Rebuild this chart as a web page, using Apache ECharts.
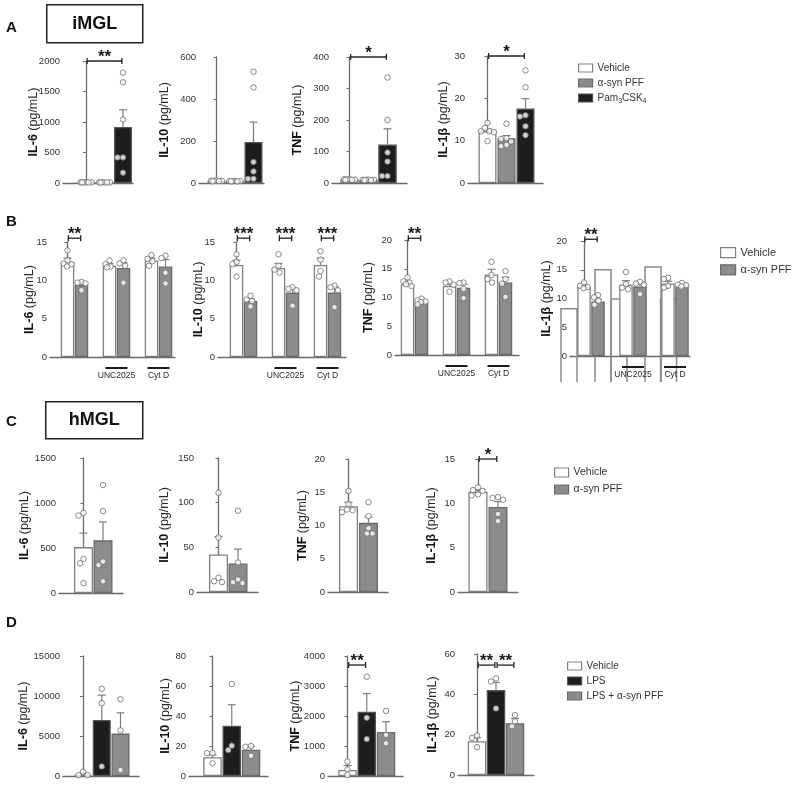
<!DOCTYPE html>
<html>
<head>
<meta charset="utf-8">
<script src="https://cdn.jsdelivr.net/npm/echarts@6/dist/echarts.min.js"></script>
<style>
  html, body { margin: 0; padding: 0; background: #fff; }
  #main { width: 793px; height: 793px; }
</style>
</head>
<body>
<div id="main"></div>
<script>
// ---- data ----
// Row A: iMGL, Vehicle / α-syn PFF / Pam3CSK4
const aConds = ['Vehicle', 'α-syn PFF', 'Pam3CSK4'];
const aIL6Mean = [10, 10, 920];
const aIL6Sem = [4, 4, 280];
const aIL6Pts = [[10, 10, 10, 10, 10, 10], [10, 10, 10, 10, 10, 10], [1810, 1650, 1040, 420, 420, 170]];
const aIL10Mean = [10, 9, 195];
const aIL10Sem = [1, 1, 95];
const aIL10Pts = [[12, 11, 10, 10, 9, 8], [10, 9, 9, 8, 8, 8], [530, 455, 100, 55, 20, 20]];
const aTNFMean = [11, 10, 122];
const aTNFSem = [1, 1, 50];
const aTNFPts = [[12, 12, 11, 11, 10, 10], [11, 10, 10, 10, 9, 9], [335, 200, 97, 68, 22, 22]];
const aIL1bMean = [12.2, 10.6, 17.6];
const aIL1bSem = [0.6, 0.6, 2.3];
const aIL1bPts = [[14.2, 13.0, 12.2, 12.2, 12.0, 9.9], [14.0, 10.6, 10.4, 9.8, 9.0, 8.7], [26.6, 22.6, 16.0, 15.7, 13.4, 11.3]];

// Row B: iMGL, Vehicle / α-syn PFF, untreated / UNC2025 / Cyt D
const bConds = ['Vehicle', 'α-syn PFF', 'Vehicle', 'α-syn PFF', 'Vehicle', 'α-syn PFF'];
const bPos = [0, 1, 3, 4, 6, 7];
const bGroups = ['UNC2025', 'Cyt D'];
const bGroupPos = [3.5, 6.5];
const bIL6Mean = [12.4, 9.4, 11.9, 11.6, 12.6, 11.8];
const bIL6Sem = [0.5, 0.3, 0.3, 0.7, 0.3, 0.9];
const bIL6Pts = [[13.9, 12.6, 12.2, 12.1, 11.8], [9.8, 9.7, 9.6, 8.7], [12.6, 12.1, 11.8, 11.7], [12.6, 12.2, 11.9, 9.7], [13.3, 12.8, 12.5, 11.9], [13.2, 12.9, 11.0, 9.6]];
const bIL10Mean = [12.0, 7.3, 11.6, 8.4, 12.0, 8.4];
const bIL10Sem = [0.6, 0.3, 0.6, 0.6, 0.9, 0.8];
const bIL10Pts = [[13.4, 12.4, 12.1, 10.5], [8.0, 7.5, 7.3, 6.6], [13.4, 11.9, 11.4, 11.0], [9.1, 8.9, 8.7, 6.7], [13.8, 12.7, 11.2, 10.5], [9.3, 9.1, 8.7, 6.5]];
const bTNFMean = [12.3, 9.1, 12.0, 11.7, 14.0, 12.6];
const bTNFSem = [0.4, 0.2, 0.3, 0.6, 0.9, 0.9];
const bTNFPts = [[13.5, 12.8, 12.6, 12.3, 12.0], [9.8, 9.5, 9.3, 9.2, 8.8], [12.8, 12.6, 12.2, 11.0], [12.6, 12.5, 11.5, 9.9], [16.2, 13.9, 13.2, 12.6], [14.6, 13.2, 12.4, 10.1]];
const bIL1bMean = [12.0, 9.5, 12.4, 12.1, 12.6, 12.1];
const bIL1bSem = [0.3, 0.4, 0.7, 0.5, 0.4, 0.2];
const bIL1bPts = [[12.8, 12.2, 12.0, 11.8], [10.6, 10.2, 9.6, 8.9], [14.6, 12.5, 11.9, 11.6], [12.9, 12.6, 12.4, 10.8], [13.6, 13.4, 12.2, 11.9], [12.7, 12.4, 12.3, 12.1]];
// stray outlined bars that overlap the IL-1β panel in the original figure
const bIL1bGhostPos = [-1.07, 1.36, 2.5, 4.93, 6.04];
const bIL1bGhostTop = [8.2, 15.0, 9.9, 15.5, 9.9];

// Row C: hMGL, Vehicle / α-syn PFF
const cConds = ['Vehicle', 'α-syn PFF'];
const cIL6Mean = [510, 585];
const cIL6Sem = [155, 205];
const cIL6Pts = [[890, 860, 380, 330, 110], [1200, 910, 350, 310, 130]];
const cIL10Mean = [42, 32];
const cIL10Sem = [20, 16];
const cIL10Pts = [[111, 61, 16, 12, 11], [91, 33, 14, 11, 10]];
const cTNFMean = [12.9, 10.4];
const cTNFSem = [0.6, 0.9];
const cTNFPts = [[15.2, 13.2, 12.4, 12.3, 12.0], [13.5, 11.4, 9.6, 8.8, 8.8]];
const cIL1bMean = [11.3, 9.6];
const cIL1bSem = [0.2, 0.6];
const cIL1bPts = [[11.8, 11.5, 11.4, 11.0, 10.9], [10.7, 10.6, 10.4, 8.8, 8.0]];

// Row D: hMGL, Vehicle / LPS / LPS + α-syn PFF
const dConds = ['Vehicle', 'LPS', 'LPS + α-syn PFF'];
const dIL6Mean = [150, 7000, 5300];
const dIL6Sem = [130, 3100, 2600];
const dIL6Pts = [[540, 100, 100], [10900, 9100, 1200], [9600, 5700, 750]];
const dIL10Mean = [12.5, 33.5, 17.5];
const dIL10Sem = [1.5, 14, 2.2];
const dIL10Pts = [[15.3, 15.2, 8.5], [61.3, 20.2, 17.3], [20.0, 19.5, 13.5]];
const dTNFMean = [200, 2140, 1470];
const dTNFSem = [150, 610, 340];
const dTNFPts = [[480, 220, 30], [3310, 1940, 1230], [2170, 1370, 1090]];
const dIL1bMean = [16.7, 42.1, 25.7];
const dIL1bSem = [1.8, 3.8, 2.3];
const dIL1bPts = [[19.6, 18.4, 13.8], [47.9, 46.4, 33.0], [29.7, 26.6, 24.2]];

// ---- styling ----
const FONT = 'Arial, "Liberation Sans", sans-serif';
const AX = '#6a6a6a';
const ERR = '#7e7e7e';
const condStyle = {
  'Vehicle': { color: '#ffffff', borderColor: '#808080' },
  'α-syn PFF': { color: '#8c8c8c', borderColor: '#6a6a6a' },
  'Pam3CSK4': { color: '#1d1d1d', borderColor: '#555555' },
  'LPS': { color: '#1d1d1d', borderColor: '#555555' },
  'LPS + α-syn PFF': { color: '#8c8c8c', borderColor: '#6a6a6a' }
};

// box: [axis x, x-axis end, top tick y, zero y, first bar centre, px per slot, bar width]
const panels = [
  { label: 'IL-6', max: 2000, step: 500, mean: aIL6Mean, sem: aIL6Sem, pts: aIL6Pts, pos: [0, 1, 2], conds: aConds, sig: [[0, 2, '**']], sigY: 2000, box: [63, 133, 61, 183, 86, 18.5, 18], nameDist: 30 },
  { label: 'IL-10', max: 600, step: 200, mean: aIL10Mean, sem: aIL10Sem, pts: aIL10Pts, pos: [0, 1, 2], conds: aConds, sig: [], box: [199, 264, 57, 183, 216.5, 18.5, 18], nameDist: 35 },
  { label: 'TNF', max: 400, step: 100, mean: aTNFMean, sem: aTNFSem, pts: aTNFPts, pos: [0, 1, 2], conds: aConds, sig: [[0, 2, '*']], sigY: 400, box: [332, 407, 57, 183, 349.5, 19, 18.5], nameDist: 35 },
  { label: 'IL-1β', max: 30, step: 10, mean: aIL1bMean, sem: aIL1bSem, pts: aIL1bPts, pos: [0, 1, 2], conds: aConds, sig: [[0, 2, '*']], sigY: 30, box: [468, 543, 56, 183, 487.5, 19, 18], nameDist: 25 },

  { label: 'IL-6', max: 15, step: 5, mean: bIL6Mean, sem: bIL6Sem, pts: bIL6Pts, pos: bPos, conds: bConds, sig: [[0, 1, '**']], sigY: 15.5, groups: true, box: [50, 175, 242, 357, 67.5, 14, 13.5], nameDist: 21 },
  { label: 'IL-10', max: 15, step: 5, mean: bIL10Mean, sem: bIL10Sem, pts: bIL10Pts, pos: bPos, conds: bConds, sig: [[0, 1, '***'], [2, 3, '***'], [4, 5, '***']], sigY: 15.5, groups: true, box: [218, 346, 242, 357, 236.5, 14, 13.5], nameDist: 20 },
  { label: 'TNF', max: 20, step: 5, mean: bTNFMean, sem: bTNFSem, pts: bTNFPts, pos: bPos, conds: bConds, sig: [[0, 1, '**']], sigY: 20.3, groups: true, box: [395, 519, 240, 355, 407.5, 14, 13.5], nameDist: 27 },
  { label: 'IL-1β', max: 20, step: 5, mean: bIL1bMean, sem: bIL1bSem, pts: bIL1bPts, pos: bPos, conds: bConds, sig: [[0, 1, '**']], sigY: 20.3, groups: true, ghost: true, box: [570, 690, 241, 356, 584, 14, 13.5], nameDist: 24 },

  { label: 'IL-6', max: 1500, step: 500, mean: cIL6Mean, sem: cIL6Sem, pts: cIL6Pts, pos: [0, 1], conds: cConds, sig: [], box: [59, 123, 458, 593, 83.5, 19.5, 19], nameDist: 35 },
  { label: 'IL-10', max: 150, step: 50, mean: cIL10Mean, sem: cIL10Sem, pts: cIL10Pts, pos: [0, 1], conds: cConds, sig: [], box: [197, 258, 458, 592, 218.5, 19.5, 19], nameDist: 33 },
  { label: 'TNF', max: 20, step: 5, mean: cTNFMean, sem: cTNFSem, pts: cTNFPts, pos: [0, 1], conds: cConds, sig: [], box: [328, 388, 459, 592, 348.5, 20, 19], nameDist: 26 },
  { label: 'IL-1β', max: 15, step: 5, mean: cIL1bMean, sem: cIL1bSem, pts: cIL1bPts, pos: [0, 1], conds: cConds, sig: [[0, 1, '*']], sigY: 15, box: [458, 518, 459, 592, 478, 20, 19], nameDist: 27 },

  { label: 'IL-6', max: 15000, step: 5000, mean: dIL6Mean, sem: dIL6Sem, pts: dIL6Pts, pos: [0, 1, 2], conds: dConds, sig: [], box: [63, 139, 656, 776, 83, 18.75, 18], nameDist: 40 },
  { label: 'IL-10', max: 80, step: 20, mean: dIL10Mean, sem: dIL10Sem, pts: dIL10Pts, pos: [0, 1, 2], conds: dConds, sig: [], box: [189, 268, 656, 776, 212.5, 19.25, 18.5], nameDist: 24 },
  { label: 'TNF', max: 4000, step: 1000, mean: dTNFMean, sem: dTNFSem, pts: dTNFPts, pos: [0, 1, 2], conds: dConds, sig: [[0, 1, '**']], sigY: 3700, box: [328, 403, 656, 776, 347.5, 19.25, 18.5], nameDist: 33 },
  { label: 'IL-1β', max: 60, step: 20, mean: dIL1bMean, sem: dIL1bSem, pts: dIL1bPts, pos: [0, 1, 2], conds: dConds, sig: [[0, 1, '**'], [1, 2, '**']], sigY: 54.5, box: [458, 534, 654, 775, 477, 19, 18.5], nameDist: 26 }
];

// simple beeswarm: horizontal offsets (px) so the dots do not sit on top of each other
function swarm(vals, pxPerVal, halfW, d) {
  const placed = [];
  return vals.map(v => {
    const y = v * pxPerVal;
    let best = 0, bestScore = -1;
    outer:
    for (let s = 0; s <= halfW; s += 0.5) {
      const cands = s === 0 ? [0] : [-s, s];
      for (const o of cands) {
        let md = Infinity;
        placed.forEach(q => { md = Math.min(md, Math.hypot(q[0] - o, q[1] - y)); });
        if (md >= d) { best = o; break outer; }
        if (md > bestScore) { bestScore = md; best = o; }
      }
    }
    placed.push([best, y]);
    return best;
  });
}

const grids = [], xAxes = [], yAxes = [], series = [];

panels.forEach((p, k) => {
  const [ax, xEnd, top, zero, c0, unit, bw] = p.box;
  grids.push({ left: ax, top: top, width: xEnd - ax, height: zero - top });
  xAxes.push({
    gridIndex: k, type: 'value', min: (ax - c0) / unit, max: (xEnd - c0) / unit,
    axisLine: { show: true, onZero: true, lineStyle: { color: AX, width: 1.3 } },
    axisTick: { show: false }, axisLabel: { show: false }, splitLine: { show: false }
  });
  yAxes.push({
    gridIndex: k, type: 'value', min: 0, max: p.max, interval: p.step,
    axisLine: { show: true, lineStyle: { color: AX, width: 1.3 } },
    axisTick: { show: true, length: 3, lineStyle: { color: AX, width: 1 } },
    axisLabel: { fontSize: 9.5, color: '#333', margin: 3, fontFamily: FONT, formatter: v => String(v) },
    splitLine: { show: false },
    name: '{b|' + p.label + '} (pg/mL)',
    nameLocation: 'middle', nameGap: p.nameDist - 7, nameMoveOverlap: false,
    nameTextStyle: {
      fontSize: 12.5, color: '#2a2a2a', fontFamily: FONT,
      rich: { b: { fontSize: 12.5, fontWeight: 'bold', color: '#111', fontFamily: FONT } }
    }
  });

  // bars, one series per condition
  [...new Set(p.conds)].forEach(cn => {
    series.push({
      type: 'bar', name: cn, xAxisIndex: k, yAxisIndex: k,
      barWidth: bw, barGap: '-100%', z: 2, silent: true,
      itemStyle: Object.assign({ borderWidth: 1.3 }, condStyle[cn]),
      data: p.pos.map((x, i) => p.conds[i] === cn ? [x, p.mean[i]] : null).filter(Boolean)
    });
  });

  // error bars (upper SEM)
  series.push({
    type: 'custom', xAxisIndex: k, yAxisIndex: k, z: 3, silent: true,
    encode: { x: 0, y: 1 },
    data: p.pos.map((x, i) => [x, p.mean[i], p.mean[i] + p.sem[i]]),
    renderItem: (params, api) => {
      const b = api.coord([api.value(0), api.value(1)]);
      const t = api.coord([api.value(0), api.value(2)]);
      const st = { stroke: ERR, lineWidth: 1.2 };
      return { type: 'group', children: [
        { type: 'line', shape: { x1: b[0], y1: b[1], x2: t[0], y2: t[1] }, style: st },
        { type: 'line', shape: { x1: t[0] - 4, y1: t[1], x2: t[0] + 4, y2: t[1] }, style: st }
      ] };
    }
  });

  // individual points
  const pxPerVal = (zero - top) / p.max;
  const dots = [];
  p.pts.forEach((vals, i) => {
    const offs = swarm(vals, pxPerVal, bw / 2 - 2.5, 5.5);
    vals.forEach((v, j) => dots.push([p.pos[i] + offs[j] / unit, v]));
  });
  series.push({
    type: 'scatter', xAxisIndex: k, yAxisIndex: k, z: 4, silent: true,
    symbol: 'circle', symbolSize: 5.5,
    itemStyle: { color: '#ffffff', borderColor: '#6e6e6e', borderWidth: 1 },
    data: dots
  });

  // significance brackets
  if (p.sig.length) {
    series.push({
      type: 'custom', xAxisIndex: k, yAxisIndex: k, z: 5, silent: true,
      encode: { x: 0, y: 2 },
      data: p.sig.map(s => [p.pos[s[0]] + 0.06, p.pos[s[1]] - 0.06, p.sigY]),
      renderItem: (params, api) => {
        const a = api.coord([api.value(0), api.value(2)]);
        const b = api.coord([api.value(1), api.value(2)]);
        const st = { stroke: '#222', lineWidth: 1.3 };
        return { type: 'group', children: [
          { type: 'line', shape: { x1: a[0], y1: a[1], x2: b[0], y2: b[1] }, style: st },
          { type: 'line', shape: { x1: a[0], y1: a[1] - 3, x2: a[0], y2: a[1] + 3 }, style: st },
          { type: 'line', shape: { x1: b[0], y1: b[1] - 3, x2: b[0], y2: b[1] + 3 }, style: st },
          { type: 'text', x: (a[0] + b[0]) / 2, y: a[1] + 5, style: {
            text: p.sig[params.dataIndex][2], fill: '#1a1a1a', fontSize: 17, fontWeight: 'bold',
            fontFamily: FONT, align: 'center', verticalAlign: 'bottom' } }
        ] };
      }
    });
  }

  // treatment labels under the pairs (row B)
  if (p.groups) {
    series.push({
      type: 'custom', xAxisIndex: k, yAxisIndex: k, z: 5, silent: true,
      encode: { x: 0, y: 1 },
      data: bGroupPos.map(x => [x, 0]),
      renderItem: (params, api) => {
        const c = api.coord([api.value(0), 0]);
        return { type: 'group', children: [
          { type: 'line', shape: { x1: c[0] - 11, y1: c[1] + 11, x2: c[0] + 11, y2: c[1] + 11 }, style: { stroke: '#1a1a1a', lineWidth: 2 } },
          { type: 'text', x: c[0], y: c[1] + 14, style: {
            text: bGroups[params.dataIndex], fill: '#2a2a2a', fontSize: 8.5, fontFamily: FONT,
            align: 'center', verticalAlign: 'top' } }
        ] };
      }
    });
  }

  // stray outlines in the IL-1β panel of row B
  if (p.ghost) {
    series.push({
      type: 'custom', xAxisIndex: k, yAxisIndex: k, z: 1, silent: true,
      encode: { x: 0, y: 1 },
      data: bIL1bGhostPos.map((x, i) => [x, bIL1bGhostTop[i]]),
      renderItem: (params, api) => {
        const t = api.coord([api.value(0), api.value(1)]);
        const b = api.coord([api.value(0), -4.5]);
        return { type: 'polyline', shape: { points: [[t[0] - 8, b[1]], [t[0] - 8, t[1]], [t[0] + 8, t[1]], [t[0] + 8, b[1]]] },
          style: { stroke: '#8a8a8a', lineWidth: 1.5, fill: null } };
      }
    });
  }
});

const legendBase = {
  orient: 'vertical', icon: 'rect', itemWidth: 14, itemHeight: 8, selectedMode: false,
  itemStyle: { borderWidth: 1.2 },
  textStyle: { fontSize: 10, color: '#333', fontFamily: FONT,
    rich: { s: { fontSize: 7, color: '#333', fontFamily: FONT, padding: [6, 0, 0, 0] } } },
  formatter: n => n === 'Pam3CSK4' ? 'Pam{s|3}CSK{s|4}' : n
};
const legends = [
  Object.assign({}, legendBase, { data: aConds, left: 573, top: 58, itemGap: 5 }),
  Object.assign({}, legendBase, { data: cConds, left: 715, top: 242, itemGap: 6, itemWidth: 15, itemHeight: 10,
    textStyle: Object.assign({}, legendBase.textStyle, { fontSize: 11 }) }),
  Object.assign({}, legendBase, { data: cConds, left: 549, top: 462, itemGap: 6, itemWidth: 14, itemHeight: 9,
    textStyle: Object.assign({}, legendBase.textStyle, { fontSize: 10.5 }) }),
  Object.assign({}, legendBase, { data: dConds, left: 562, top: 656, itemGap: 5 })
];

const letter = (t, x, y) => ({ type: 'text', left: x, top: y, style: { text: t, fontSize: 15, fontWeight: 'bold', fill: '#111', fontFamily: FONT } });
const boxTitle = (t, x, y, w, h) => ({ type: 'group', left: x, top: y, children: [
  { type: 'rect', shape: { x: 0, y: 0, width: w, height: h }, style: { fill: '#fff', stroke: '#222', lineWidth: 1.5 } },
  { type: 'text', x: w / 2, y: h / 2, style: { text: t, fontSize: 18, fontWeight: 'bold', fill: '#111', fontFamily: FONT, align: 'center', verticalAlign: 'middle' } }
] });

const chart = echarts.init(document.getElementById('main'), null, { renderer: 'canvas' });
chart.setOption({
  animation: false,
  backgroundColor: '#ffffff',
  grid: grids,
  xAxis: xAxes,
  yAxis: yAxes,
  legend: legends,
  series: series,
  graphic: [
    letter('A', 6, 20), boxTitle('iMGL', 46, 4, 96, 38),
    letter('B', 6, 214),
    letter('C', 6, 414), boxTitle('hMGL', 45, 401, 97, 37),
    letter('D', 6, 615)
  ]
});
</script>
</body>
</html>
